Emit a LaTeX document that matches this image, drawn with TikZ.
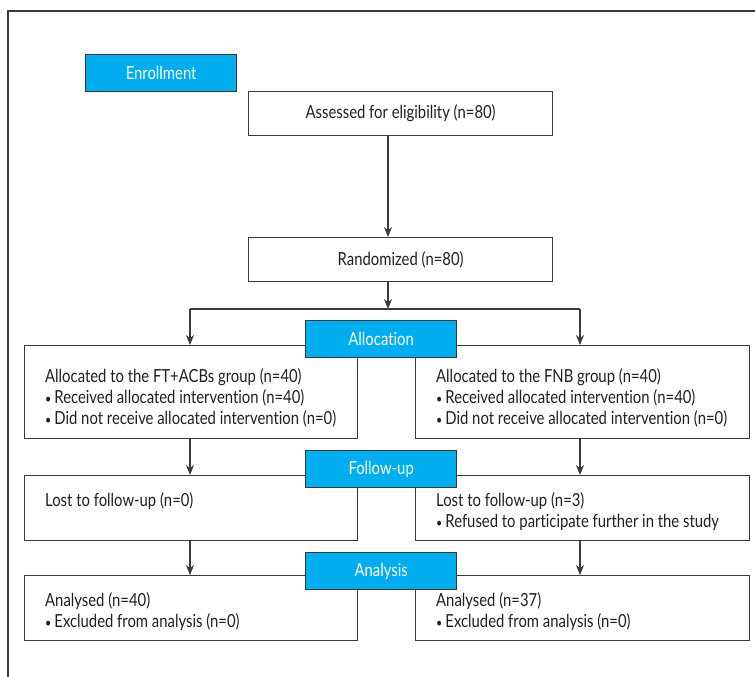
\documentclass[tikz,border=0pt]{standalone}
\usepackage{fontspec}
\setmainfont[FakeStretch=0.825, Ligatures=NoCommon]{Lato}
\usetikzlibrary{arrows.meta}

\definecolor{stagecyan}{HTML}{00AEEF}
\definecolor{linegray}{HTML}{3A3A3A}
\definecolor{inkgray}{HTML}{231F20}

\newcommand{\bul}{{\fontsize{13}{21}\selectfont •}\,}

\tikzset{
	box/.style={draw=linegray, line width=1.3pt, fill=white, anchor=north west, inner sep=0pt, text=inkgray, font=\fontsize{18}{21}\selectfont},
	stage/.style={draw=linegray, line width=1.3pt, fill=stagecyan, text=white, anchor=north west, minimum width=151, minimum height=37, inner sep=0pt, font=\fontsize{18}{21}\selectfont},
	boxtext/.style={anchor=north west, align=left, inner sep=0pt, text=inkgray, font=\fontsize{18}{21}\selectfont},
	arr/.style={-{Stealth[length=10pt,width=8pt]}, line width=1.1pt, draw=linegray}
}

\begin{document}
\begin{tikzpicture}[x=1pt, y=-1pt]
	\useasboundingbox (0, 0) rectangle (755, 677);

	% Рамка
	\draw[line width=1.2pt, linegray] (755, 11) -- (8, 11) -- (8, 677);

	% Блоки
	\node[box, minimum width=304, minimum height=44] (assess) at (248, 91) {Assessed for eligibility (n=80)};
	\node[box, minimum width=304, minimum height=44] (random) at (248, 237) {Randomized (n=80)};

	\node[box, minimum width=333, minimum height=93] (allocL) at (24, 345) {};
	\node[box, minimum width=334, minimum height=93] (allocR) at (415, 345) {};
	\node[box, minimum width=333, minimum height=65] (lostL) at (24, 475) {};
	\node[box, minimum width=334, minimum height=65] (lostR) at (415, 475) {};
	\node[box, minimum width=333, minimum height=65] (anaL) at (24, 575) {};
	\node[box, minimum width=334, minimum height=65] (anaR) at (415, 575) {};

	% Тексты блоков
	\node[boxtext] (allocLt) at (45, 368) {Allocated to the FT+ACBs group (n=40)\\ \bul Received allocated intervention (n=40)\\ \bul Did not receive allocated intervention (n=0)};
	\node[boxtext] (allocRt) at (436, 368) {Allocated to the FNB group (n=40)\\ \bul Received allocated intervention (n=40)\\ \bul Did not receive allocated intervention (n=0)};
	\node[boxtext] (lostLt) at (45, 492) {Lost to follow-up (n=0)};
	\node[boxtext] (lostRt) at (436, 492) {Lost to follow-up (n=3)\\ \bul Refused to participate further in the study};
	\node[boxtext] (anaLt) at (45, 592) {Analysed (n=40)\\ \bul Excluded from analysis (n=0)};
	\node[boxtext] (anaRt) at (436, 592) {Analysed (n=37)\\ \bul Excluded from analysis (n=0)};

	% Этапы
	\node[stage] (enroll) at (85, 54) {Enrollment};
	\node[stage] (allocation) at (305, 320) {Allocation};
	\node[stage] (followup) at (305, 450) {Follow-up};
	\node[stage] (analysis) at (305, 552) {Analysis};

	% Точки разветвления
	\coordinate (split) at (388, 309);
	\coordinate (splitL) at (190, 309);
	\coordinate (splitR) at (580, 309);

	% Стрелки
	\draw[arr] (assess.south -| split) -- (random.north -| split);
	\draw[arr] (random.south -| split) -- (split);
	\draw[line width=1.1pt, linegray] (splitL) -- (splitR);
	\draw[arr] (splitL) -- (allocL.north -| splitL);
	\draw[arr] (splitR) -- (allocR.north -| splitR);
	\draw[arr] (allocL.south -| splitL) -- (lostL.north -| splitL);
	\draw[arr] (allocR.south -| splitR) -- (lostR.north -| splitR);
	\draw[arr] (lostL.south -| splitL) -- (anaL.north -| splitL);
	\draw[arr] (lostR.south -| splitR) -- (anaR.north -| splitR);
\end{tikzpicture}
\end{document}
